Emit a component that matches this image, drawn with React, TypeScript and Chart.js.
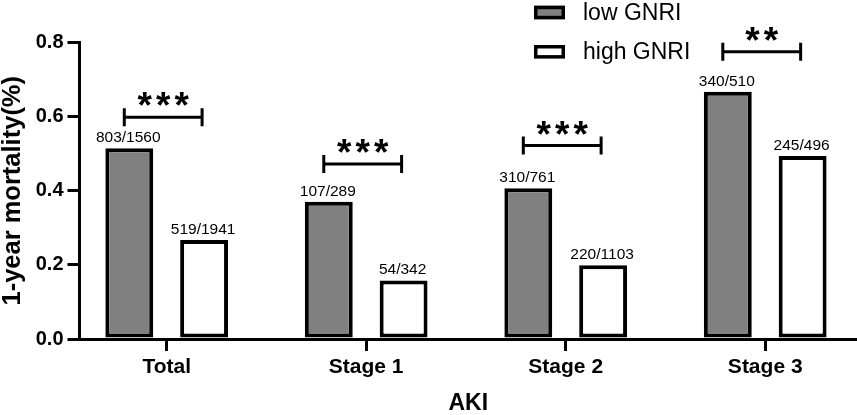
import React, { useEffect, useRef } from "react";
import { Chart, registerables } from "chart.js";

Chart.register(...registerables);

const categories = ["Total", "Stage 1", "Stage 2", "Stage 3"];
const seriesNames = ["low GNRI", "high GNRI"];
const lowGNRI = [0.515, 0.37, 0.407, 0.667];
const highGNRI = [0.267, 0.158, 0.199, 0.494];
const lowLabels = ["803/1560", "107/289", "310/761", "340/510"];
const highLabels = ["519/1941", "54/342", "220/1103", "245/496"];
const bracketLevels = [0.598, 0.472, 0.522, 0.775];
const significance = ["***", "***", "***", "**"];
const yTicks = [0, 0.2, 0.4, 0.6, 0.8];

const FONT = '"Liberation Sans", Arial, sans-serif';
const seriesFill = ["#808080", "#ffffff"];

const overlayPlugin = {
  id: "overlay",
  afterDraw(chart: any) {
    const ctx = chart.ctx as CanvasRenderingContext2D;
    const yScale = chart.scales.y;
    const labelSets = [lowLabels, highLabels];
    ctx.save();
    // value labels
    ctx.fillStyle = "#000";
    ctx.textAlign = "center";
    ctx.textBaseline = "alphabetic";
    ctx.font = `15.5px ${FONT}`;
    [0, 1].forEach((d) => {
      const meta = chart.getDatasetMeta(d);
      meta.data.forEach((el: any, i: number) => {
        ctx.fillText(labelSets[d][i], el.x - 1, el.y - 6);
      });
    });
    // significance brackets
    const m0 = chart.getDatasetMeta(0);
    const m1 = chart.getDatasetMeta(1);
    ctx.strokeStyle = "#000";
    ctx.lineWidth = 3;
    bracketLevels.forEach((lvl, i) => {
      const y = yScale.getPixelForValue(lvl);
      const x1 = m0.data[i].x - 5;
      const x2 = m1.data[i].x - 2;
      ctx.beginPath();
      ctx.moveTo(x1, y);
      ctx.lineTo(x2, y);
      ctx.moveTo(x1, y - 9);
      ctx.lineTo(x1, y + 9);
      ctx.moveTo(x2, y - 9);
      ctx.lineTo(x2, y + 9);
      ctx.stroke();
      ctx.font = `bold 37px ${FONT}`;
      (ctx as any).letterSpacing = "4px";
      ctx.textAlign = "center";
      ctx.fillText(significance[i], (x1 + x2) / 2 + 2, y + 1);
      (ctx as any).letterSpacing = "0px";
    });
    // legend
    const lx = 534;
    const ly = 5.7;
    const bw = 31;
    const bh = 13.6;
    const gap = 39.3;
    ctx.font = `23px ${FONT}`;
    ctx.textAlign = "left";
    ctx.textBaseline = "middle";
    seriesNames.forEach((name, i) => {
      const y = ly + i * gap;
      ctx.fillStyle = seriesFill[i];
      ctx.fillRect(lx, y, bw, bh);
      ctx.lineWidth = 3.5;
      ctx.strokeStyle = "#000";
      ctx.strokeRect(lx + 1.75, y + 1.75, bw - 3.5, bh - 3.5);
      ctx.fillStyle = "#000";
      ctx.fillText(name, lx + 49, y + bh / 2 + 1);
    });
    ctx.restore();
  },
};

export default function App() {
  const canvasRef = useRef<HTMLCanvasElement | null>(null);

  useEffect(() => {
    document.body.style.margin = "0";
    const canvas = canvasRef.current;
    if (!canvas) return;
    const chart = new Chart(canvas, {
      type: "bar",
      data: {
        datasets: [
          {
            label: seriesNames[0],
            data: lowGNRI.map((v, i) => ({ x: i, y: v })),
            backgroundColor: seriesFill[0],
            borderColor: "#000",
            borderWidth: 4,
            borderSkipped: false,
            categoryPercentage: 0.75,
            barPercentage: 0.64,
          },
          {
            label: seriesNames[1],
            data: highGNRI.map((v, i) => ({ x: i, y: v })),
            backgroundColor: seriesFill[1],
            borderColor: "#000",
            borderWidth: 4,
            borderSkipped: false,
            categoryPercentage: 0.75,
            barPercentage: 0.64,
          },
        ],
      } as any,
      options: {
        animation: false,
        responsive: true,
        maintainAspectRatio: false,
        layout: { padding: { top: 42.5, left: 0, right: 0, bottom: 0 } },
        plugins: {
          legend: { display: false },
          tooltip: { enabled: false },
        },
        scales: {
          x: {
            type: "linear",
            min: -0.437,
            max: 3.46,
            offset: false,
            z: 1,
            afterBuildTicks: (s: any) => {
              s.ticks = categories.map((_, i) => ({ value: i }));
            },
            afterFit: (s: any) => {
              s.height = 76;
            },
            border: { display: true, color: "#000", width: 3 },
            grid: {
              display: true,
              offset: false,
              drawOnChartArea: false,
              drawTicks: true,
              tickLength: 12,
              tickWidth: 3,
              tickColor: "#000",
              color: "#000",
              lineWidth: 3,
            },
            ticks: {
              callback: (v: any) => categories[v] ?? "",
              color: "#000",
              font: { family: FONT, size: 21, weight: "bold" },
              padding: 4,
              maxRotation: 0,
              autoSkip: false,
            },
            title: {
              display: true,
              text: "AKI",
              color: "#000",
              font: { family: FONT, size: 23, weight: "bold", lineHeight: 1 },
              padding: 0,
            },
          },
          y: {
            min: 0,
            max: 0.8,
            afterBuildTicks: (s: any) => {
              s.ticks = yTicks.map((v) => ({ value: v }));
            },
            afterFit: (s: any) => {
              s.width = 79.5;
            },
            border: { display: true, color: "#000", width: 3 },
            grid: {
              display: true,
              drawOnChartArea: false,
              drawTicks: true,
              tickLength: 12,
              tickWidth: 3,
              tickColor: "#000",
              color: "#000",
              lineWidth: 3,
            },
            ticks: {
              callback: (v: any) => Number(v).toFixed(1),
              color: "#000",
              font: { family: FONT, size: 20, weight: "bold" },
              padding: 4,
            },
            title: {
              display: true,
              text: "1-year mortality(%)",
              color: "#000",
              font: { family: FONT, size: 25.5, weight: "bold", lineHeight: 1.05 },
              padding: 0,
            },
          },
        },
      } as any,
      plugins: [overlayPlugin],
    });
    return () => chart.destroy();
  }, []);

  return (
    <div style={{ width: 857, height: 415, position: "relative", background: "#fff" }}>
      <canvas ref={canvasRef} />
    </div>
  );
}
